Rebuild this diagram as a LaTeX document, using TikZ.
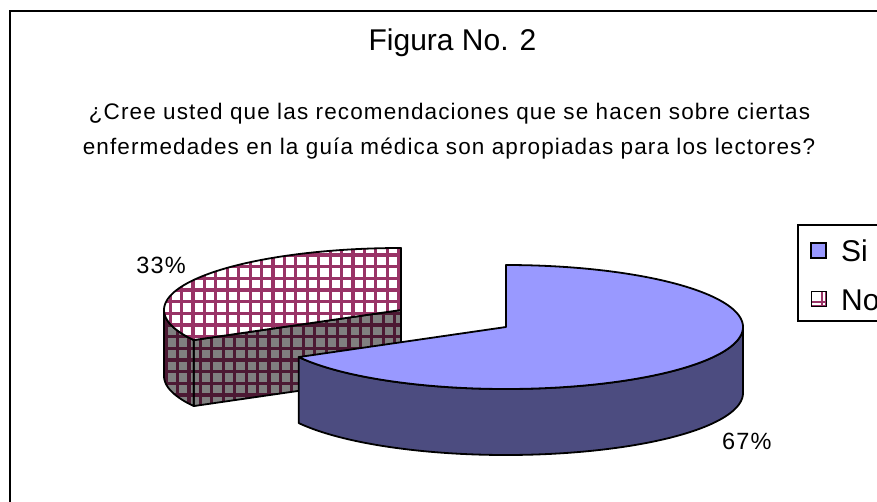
\documentclass[tikz,border=0pt]{standalone}
\usepackage{fontspec}
\setmainfont{Liberation Sans}
\definecolor{sitop}{HTML}{9999FF}
\definecolor{siside}{HTML}{4C4C80}
\definecolor{nogrid}{HTML}{993366}
\definecolor{nogriddark}{HTML}{4C1933}
\definecolor{noside}{HTML}{808080}
\tikzset{
  outline/.style={draw=black, line width=1.8pt, line join=round},
  gridline/.style={line width=3.2pt},
  txt/.style={inner sep=0pt, font=\addfontfeature{LetterSpace=5}},
}
\begin{document}
\begin{tikzpicture}[x=1pt,y=-1pt]
\useasboundingbox (0,0) rectangle (877,501);
\clip (0,0) rectangle (877,501);
\fill[white] (0,0) rectangle (877,501);
% frame
\draw[line width=2pt] (10,530) -- (10,11) -- (900,11);

% titles
\node[inner sep=0pt, anchor=base] (title) at (452.5,50) {\fontsize{30}{36}\selectfont Figura No. 2};
\node[txt, anchor=base] (q1) at (449.5,119) {\fontsize{22.5}{26}\selectfont ¿Cree usted que las recomendaciones que se hacen sobre ciertas};
\node[txt, anchor=base] (q2) at (449,154) {\fontsize{22.5}{26}\selectfont enfermedades en la guía médica son apropiadas para los lectores?};

% ---------- red (No) slice, exploded ----------
\path[save path=\redcut] (401,310) -- ({401+237*cos(209)},{310-62*sin(209)}) -- ({401+237*cos(209)},{376-62*sin(209)}) -- (401,376) -- cycle;
\path[save path=\redside] plot[domain=180:209, samples=40] ({401+237*cos(\x)},{310-62*sin(\x)}) -- plot[domain=209:180, samples=40] ({401+237*cos(\x)},{376-62*sin(\x)}) -- cycle;
\path[save path=\redtop] (401,310) -- (401,248) -- plot[domain=90:209, samples=100] ({401+237*cos(\x)},{310-62*sin(\x)}) -- cycle;

% side faces (grey with dark grid)
\begin{scope}
  \clip[use path=\redcut];
  \fill[noside] (150,240) rectangle (420,420);
  \foreach \i in {-14,...,10} {\draw[nogriddark, gridline] ({303.3+11.43*\i},240) -- ++(0,190);}
  \foreach \j in {-2,...,15} {\draw[nogriddark, gridline] (150,{255+11.67*\j}) -- ++(280,0);}
\end{scope}
\begin{scope}
  \clip[use path=\redside];
  \fill[noside] (150,240) rectangle (420,420);
  \foreach \i in {-14,...,10} {\draw[nogriddark, gridline] ({303.3+11.43*\i},240) -- ++(0,190);}
  \foreach \j in {-2,...,15} {\draw[nogriddark, gridline] (150,{255+11.67*\j}) -- ++(280,0);}
\end{scope}
\draw[outline, use path=\redcut];
\draw[outline, use path=\redside];
% top face (white with maroon grid)
\begin{scope}
  \clip[use path=\redtop];
  \fill[white] (150,240) rectangle (420,420);
  \foreach \i in {-14,...,10} {\draw[nogrid, gridline] ({307.3+11.43*\i},240) -- ++(0,190);}
  \foreach \j in {-2,...,15} {\draw[nogrid, gridline] (150,{255+11.67*\j}) -- ++(280,0);}
\end{scope}
\draw[outline, use path=\redtop];

% ---------- blue (Si) slice ----------
\draw[outline, fill=siside] plot[domain=-151:0, samples=120] ({506+237*cos(\x)},{327-62*sin(\x)}) -- plot[domain=0:-151, samples=120] ({506+237*cos(\x)},{393-62*sin(\x)}) -- cycle;
\draw[outline, fill=sitop] (506,327) -- plot[domain=-151:90, samples=160] ({506+237*cos(\x)},{327-62*sin(\x)}) -- cycle;

% percentage labels
\node[txt, anchor=base east] (p33) at (186,273) {\fontsize{23.5}{27}\selectfont 33\%};
\node[txt, anchor=base west] (p67) at (722,449) {\fontsize{23.5}{27}\selectfont 67\%};

% ---------- legend ----------
\draw[line width=1.5pt] (798,225) rectangle (900,321);
\draw[line width=1.2pt, fill=sitop] (811,243) rectangle (826,258);
\begin{scope}
  \clip (811,291) rectangle (826,306);
  \fill[white] (811,291) rectangle (826,306);
  \draw[nogrid, line width=2.8pt] (811,291) rectangle (826,306);
  \draw[nogrid, line width=2.2pt] (822,291) -- (822,306);
  \draw[nogrid, line width=2.2pt] (811,302) -- (826,302);
\end{scope}
\draw[line width=1pt, draw=black] (811,291) rectangle (826,306);
\node[inner sep=0pt, anchor=base west] (lsi) at (841,261) {\fontsize{30}{36}\selectfont Si};
\node[inner sep=0pt, anchor=base west] (lno) at (841,310) {\fontsize{30}{36}\selectfont No};
\end{tikzpicture}
\end{document}
